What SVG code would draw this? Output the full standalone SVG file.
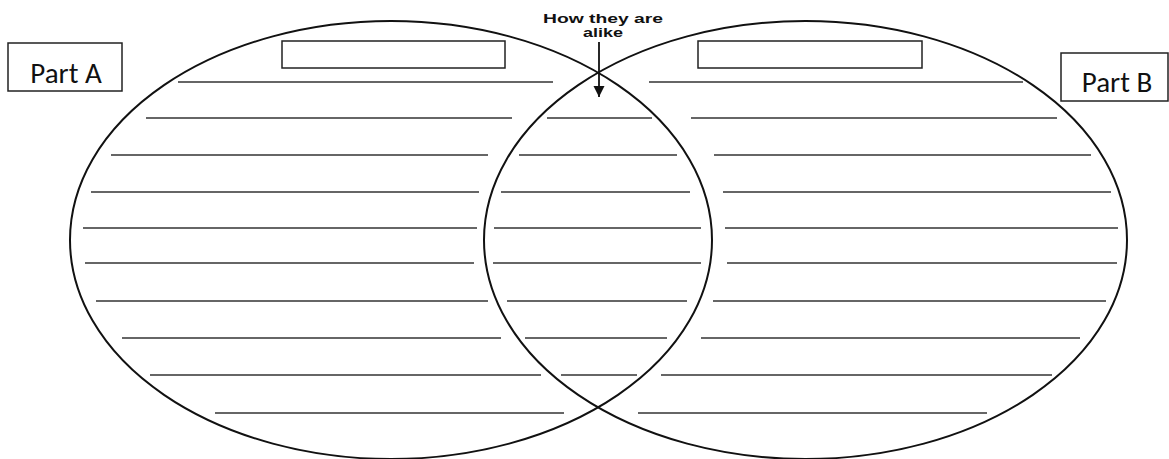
<svg xmlns="http://www.w3.org/2000/svg" width="1169" height="459" viewBox="0 0 1169 459">
<style>
.ell{fill:none;stroke:#111;stroke-width:2}
.ln{stroke:#333;stroke-width:1.6}
.box{fill:#fff;stroke:#222;stroke-width:1.5}
.lbl{font-family:"Carlito","Liberation Sans",sans-serif;font-size:29px;fill:#111}
.hd{font-family:"Liberation Sans",Arial,sans-serif;font-weight:bold;font-size:13px;fill:#111}
</style>
<defs>
<marker id="ah" markerWidth="12" markerHeight="12" refX="11" refY="6" orient="auto" markerUnits="userSpaceOnUse">
<path d="M0,0.5 L11,6 L0,11.5 Z" fill="#111"/>
</marker>
</defs>
<rect width="1169" height="459" fill="#fff"/>
<g id="partA-ellipse"><ellipse class="ell" cx="391" cy="240" rx="321" ry="219"/></g>
<g id="partB-ellipse"><ellipse class="ell" cx="805.5" cy="240" rx="321.5" ry="219"/></g>
<g id="partA-title"><rect class="box" x="282" y="41" width="223" height="27"/></g>
<g id="partB-title"><rect class="box" x="698" y="41" width="224" height="27"/></g>
<g id="partA-label"><rect class="box" x="8" y="43" width="114" height="48"/><text class="lbl" x="66" y="83" text-anchor="middle">Part A</text></g>
<g id="partB-label"><rect class="box" x="1061" y="53" width="107" height="48"/><text class="lbl" x="1117" y="92" text-anchor="middle">Part B</text></g>
<g id="alike-label">
<text class="hd" x="603" y="23" text-anchor="middle" textLength="120" lengthAdjust="spacingAndGlyphs">How they are</text>
<text class="hd" x="603" y="37" text-anchor="middle" textLength="40" lengthAdjust="spacingAndGlyphs">alike</text>
</g>
<g id="connectors">
<line x1="599" y1="42" x2="599" y2="97" stroke="#111" stroke-width="1.8" marker-end="url(#ah)"/>
</g>
<g id="lines-A">
<line class="ln" x1="178" y1="82" x2="553" y2="82"/>
<line class="ln" x1="146" y1="118" x2="512" y2="118"/>
<line class="ln" x1="111" y1="155" x2="488" y2="155"/>
<line class="ln" x1="91" y1="192" x2="479" y2="192"/>
<line class="ln" x1="83" y1="228" x2="477" y2="228"/>
<line class="ln" x1="85" y1="263" x2="474" y2="263"/>
<line class="ln" x1="96" y1="301" x2="488" y2="301"/>
<line class="ln" x1="122" y1="338" x2="501" y2="338"/>
<line class="ln" x1="150" y1="375" x2="541" y2="375"/>
<line class="ln" x1="215" y1="413" x2="564" y2="413"/>
</g>
<g id="lines-mid">
<line class="ln" x1="547" y1="118" x2="652" y2="118"/>
<line class="ln" x1="519" y1="155" x2="677" y2="155"/>
<line class="ln" x1="501" y1="192" x2="690" y2="192"/>
<line class="ln" x1="494" y1="228" x2="701" y2="228"/>
<line class="ln" x1="493" y1="263" x2="701" y2="263"/>
<line class="ln" x1="507" y1="301" x2="687" y2="301"/>
<line class="ln" x1="525" y1="338" x2="667" y2="338"/>
<line class="ln" x1="561" y1="375" x2="637" y2="375"/>
</g>
<g id="lines-B">
<line class="ln" x1="649" y1="82" x2="1023" y2="82"/>
<line class="ln" x1="691" y1="118" x2="1057" y2="118"/>
<line class="ln" x1="714" y1="155" x2="1091" y2="155"/>
<line class="ln" x1="723" y1="192" x2="1111" y2="192"/>
<line class="ln" x1="725" y1="228" x2="1118" y2="228"/>
<line class="ln" x1="727" y1="263" x2="1117" y2="263"/>
<line class="ln" x1="713" y1="301" x2="1106" y2="301"/>
<line class="ln" x1="701" y1="338" x2="1080" y2="338"/>
<line class="ln" x1="661" y1="375" x2="1052" y2="375"/>
<line class="ln" x1="638" y1="413" x2="987" y2="413"/>
</g>
</svg>
